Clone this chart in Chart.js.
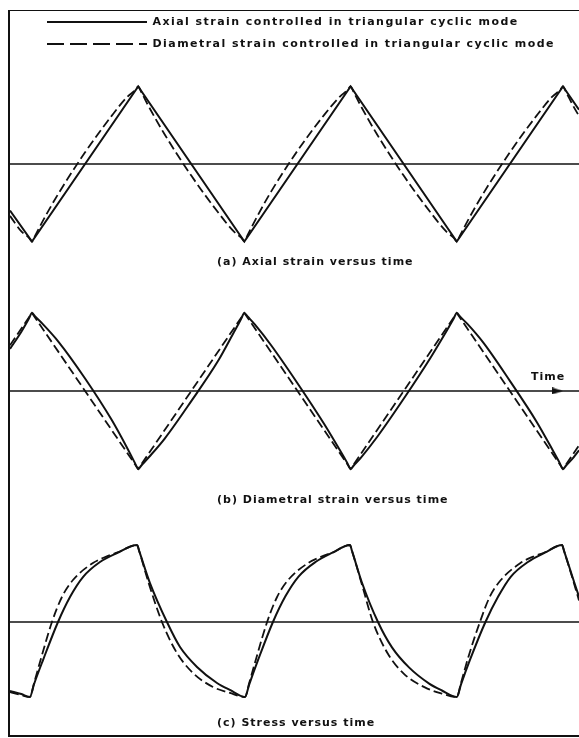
<!DOCTYPE html>
<html>
<head>
<meta charset="utf-8">
<title>Triangular cyclic loading: strain and stress versus time</title>
<script src="https://cdn.jsdelivr.net/npm/chart.js@4/dist/chart.umd.min.js"></script>
<style>
  html, body { margin: 0; padding: 0; background: #fff; width: 579px; height: 738px; overflow: hidden; }
  #frame {
    position: absolute; left: 8px; top: 10px; width: 600px; height: 727px;
    box-sizing: border-box;
    border-left: 2px solid #111; border-top: 1.5px solid #111; border-bottom: 2px solid #111;
  }
  canvas { position: absolute; }
</style>
</head>
<body>
<div id="frame"></div>
<canvas id="legendCanvas" width="579" height="100" style="left:0;top:0"></canvas>
<canvas id="panelA" width="569" height="225" style="left:10px;top:55px"></canvas>
<canvas id="panelB" width="569" height="225" style="left:10px;top:285px"></canvas>
<canvas id="panelC" width="569" height="222" style="left:10px;top:515px"></canvas>
<script>
// Time axis: one unit = half a loading cycle (axial strain trough at t = 0)
const T_MIN = -0.207;
const T_MAX = 5.151;
const TIME_ARROW_T = 4.948;

// Series labels
const seriesLabels = [
  'Axial strain controlled in triangular cyclic mode',
  'Diametral strain controlled in triangular cyclic mode'
];
const panelCaptions = [
  '(a) Axial strain versus time',
  '(b) Diametral strain versus time',
  '(c) Stress versus time'
];
const timeLabel = 'Time';

// (a) Axial strain, normalised to its amplitude
const axialStrainAxCtrlT = [-0.207, 0, 1, 2, 3, 4, 5, 5.151];
const axialStrainAxCtrl  = [-0.60, -1, 1, -1, 1, -1, 1, 0.70];
const axialStrainDiCtrlT = [-0.207, -0.1, -0.03, 0,
                            0.03, 0.1, 0.25, 0.5, 0.75, 0.9, 0.97, 1,
                            1.03, 1.1, 1.25, 1.5, 1.75, 1.9, 1.97, 2,
                            2.03, 2.1, 2.25, 2.5, 2.75, 2.9, 2.97, 3,
                            3.03, 3.1, 3.25, 3.5, 3.75, 3.9, 3.97, 4,
                            4.03, 4.1, 4.25, 4.5, 4.75, 4.9, 4.97, 5,
                            5.03, 5.1, 5.151];
const axialStrainDiCtrl  = [-0.67, -0.87, -0.95, -1,
                            -0.925, -0.74, -0.38, 0.15, 0.62, 0.87, 0.95, 1,
                            0.925, 0.74, 0.38, -0.15, -0.62, -0.87, -0.95, -1,
                            -0.92, -0.73, -0.36, 0.17, 0.63, 0.87, 0.95, 1,
                            0.925, 0.74, 0.38, -0.15, -0.62, -0.87, -0.95, -1,
                            -0.925, -0.74, -0.38, 0.15, 0.62, 0.87, 0.95, 1,
                            0.925, 0.74, 0.62];

// (b) Diametral strain, normalised to its amplitude
const diamStrainDiCtrlT = [-0.207, 0, 1, 2, 3, 4, 5, 5.151];
const diamStrainDiCtrl  = [0.586, 1, -1, 1, -1, 1, -1, -0.698];
const diamStrainAxCtrlT = [-0.207, -0.1, -0.03, 0,
                           0.03, 0.1, 0.25, 0.5, 0.75, 0.9, 0.97, 1,
                           1.03, 1.1, 1.25, 1.5, 1.75, 1.9, 1.97, 2,
                           2.03, 2.1, 2.25, 2.5, 2.75, 2.9, 2.97, 3,
                           3.03, 3.1, 3.25, 3.5, 3.75, 3.9, 3.97, 4,
                           4.03, 4.1, 4.25, 4.5, 4.75, 4.9, 4.97, 5,
                           5.03, 5.1, 5.151];
const diamStrainAxCtrl  = [0.54, 0.76, 0.925, 1,
                           0.955, 0.86, 0.63, 0.16, -0.37, -0.74, -0.925, -1,
                           -0.955, -0.85, -0.61, -0.13, 0.38, 0.75, 0.925, 1,
                           0.955, 0.85, 0.59, 0.10, -0.42, -0.76, -0.925, -1,
                           -0.955, -0.85, -0.59, -0.10, 0.42, 0.76, 0.925, 1,
                           0.955, 0.86, 0.62, 0.13, -0.39, -0.75, -0.925, -1,
                           -0.955, -0.85, -0.76];

// (c) Stress, normalised to the peak stress
const stressAxCtrlT = [-0.207, -0.1, -0.02, 0.02, 0.104, 0.245, 0.358, 0.48, 0.64, 0.80, 0.99,
                       1.01, 1.111, 1.271, 1.394, 1.554, 1.742, 1.864, 2.006,
                       2.046, 2.13, 2.269, 2.385, 2.51, 2.67, 2.83, 2.994,
                       3.014, 3.105, 3.258, 3.39, 3.55, 3.74, 3.86, 4.0,
                       4.04, 4.125, 4.27, 4.39, 4.51, 4.67, 4.83, 4.991,
                       5.011, 5.105, 5.151];
const stressAxCtrl  = [-0.896, -0.935, -0.974, -0.805, -0.494, 0, 0.325, 0.584, 0.779, 0.896, 1.0,
                       0.92, 0.506, 0, -0.325, -0.584, -0.792, -0.883, -0.974,
                       -0.81, -0.49, 0, 0.33, 0.59, 0.78, 0.90, 1.0,
                       0.92, 0.52, 0, -0.33, -0.59, -0.80, -0.89, -0.974,
                       -0.81, -0.49, 0, 0.33, 0.59, 0.78, 0.90, 1.0,
                       0.92, 0.52, 0.33];
const stressDiCtrlT = [-0.207, -0.1, -0.02, 0.02, 0.09, 0.188, 0.282, 0.386, 0.574, 0.70, 0.80, 0.99,
                       1.01, 1.10, 1.224, 1.365, 1.516, 1.704, 1.864, 2.006,
                       2.046, 2.116, 2.214, 2.308, 2.412, 2.60, 2.726, 2.826, 2.994,
                       3.014, 3.10, 3.211, 3.35, 3.50, 3.70, 3.86, 4.0,
                       4.04, 4.11, 4.218, 4.31, 4.415, 4.60, 4.72, 4.82, 4.991,
                       5.011, 5.10, 5.151];
const stressDiCtrl  = [-0.91, -0.95, -0.974, -0.79, -0.45, 0, 0.325, 0.545, 0.766, 0.85, 0.90, 1.0,
                       0.92, 0.50, 0, -0.403, -0.662, -0.844, -0.922, -0.974,
                       -0.79, -0.45, 0, 0.325, 0.545, 0.766, 0.85, 0.90, 1.0,
                       0.92, 0.52, 0, -0.41, -0.67, -0.85, -0.93, -0.974,
                       -0.79, -0.45, 0, 0.325, 0.545, 0.766, 0.85, 0.90, 1.0,
                       0.92, 0.52, 0.28];

const INK = '#111';
const LABEL_FONT = 'bold 11px "DejaVu Sans", sans-serif';
Chart.defaults.font.family = '"DejaVu Sans", sans-serif';
Chart.defaults.color = INK;

const pts = (t, v) => t.map((x, i) => ({ x, y: v[i] }));

// Canvas letter spacing for the wide bold lettering
const spacedText = (spacing) => ({
  id: 'spacedText',
  beforeLayout(chart) { chart.ctx.letterSpacing = spacing; },
  beforeDraw(chart) { chart.ctx.letterSpacing = spacing; }
});

// Free-standing labels (panel captions, axis name)
const textLabels = (items) => ({
  id: 'textLabels',
  afterDatasetsDraw(chart) {
    const ctx = chart.ctx;
    ctx.save();
    ctx.font = LABEL_FONT;
    ctx.letterSpacing = '1px';
    ctx.fillStyle = INK;
    ctx.textBaseline = 'middle';
    ctx.textAlign = 'left';
    items.forEach(it => ctx.fillText(it.text, it.x, it.y));
    ctx.restore();
  }
});

// Narrow arrowhead for the time axis
const arrowHead = document.createElement('canvas');
arrowHead.width = 11;
arrowHead.height = 7;
(() => {
  const c = arrowHead.getContext('2d');
  c.fillStyle = INK;
  c.beginPath();
  c.moveTo(0, 0);
  c.lineTo(11, 3.5);
  c.lineTo(0, 7);
  c.closePath();
  c.fill();
})();

const solidStyle = { borderColor: INK, borderWidth: 2, pointRadius: 0, fill: false, tension: 0 };
const dashedStyle = { borderColor: INK, borderWidth: 1.8, borderDash: [9, 4], pointRadius: 0, fill: false, tension: 0 };
const smooth = { cubicInterpolationMode: 'monotone' };
const zeroLine = () => ({ data: pts([T_MIN, T_MAX], [0, 0]), borderColor: INK, borderWidth: 1.5, pointRadius: 0, fill: false });

function makePanel(id, yMin, yMax, datasets, labels) {
  return new Chart(document.getElementById(id), {
    type: 'line',
    data: { datasets },
    options: {
      responsive: false,
      animation: false,
      events: [],
      layout: { padding: 0, autoPadding: false },
      scales: {
        x: { type: 'linear', min: T_MIN, max: T_MAX, display: false },
        y: { type: 'linear', min: yMin, max: yMax, display: false }
      },
      plugins: { legend: { display: false }, tooltip: { enabled: false } }
    },
    plugins: [textLabels(labels)]
  });
}

// Legend
new Chart(document.getElementById('legendCanvas'), {
  type: 'line',
  data: {
    datasets: [
      { label: seriesLabels[0], data: [], borderColor: INK, borderWidth: 1.8 },
      { label: seriesLabels[1], data: [], borderColor: INK, borderWidth: 1.8, borderDash: [17, 6] }
    ]
  },
  options: {
    responsive: false,
    animation: false,
    events: [],
    layout: { padding: { left: 36, top: 5.5 }, autoPadding: false },
    scales: { x: { display: false }, y: { display: false } },
    plugins: {
      tooltip: { enabled: false },
      legend: {
        display: true,
        position: 'top',
        align: 'start',
        maxHeight: 90,
        labels: {
          usePointStyle: true,
          pointStyle: 'line',
          pointStyleWidth: 100,
          padding: 11,
          color: INK,
          font: { size: 11, weight: 'bold' },
          generateLabels(chart) {
            const base = Chart.defaults.plugins.legend.labels.generateLabels(chart);
            return base.map(item => {
              const ds = chart.data.datasets[item.datasetIndex];
              return Object.assign({}, item, {
                lineDash: ds.borderDash || [],
                lineWidth: ds.borderWidth,
                strokeStyle: ds.borderColor
              });
            });
          }
        }
      }
    }
  },
  plugins: [spacedText('1.45px')]
});

// (a) Axial strain versus time
makePanel('panelA', -1.497, 1.406, [
  zeroLine(),
  Object.assign({ data: pts(axialStrainAxCtrlT, axialStrainAxCtrl) }, solidStyle),
  Object.assign({ data: pts(axialStrainDiCtrlT, axialStrainDiCtrl) }, dashedStyle, smooth)
], [{ text: panelCaptions[0], x: 207, y: 207 }]);

// (b) Diametral strain versus time, with the time arrow
makePanel('panelB', -1.526, 1.359, [
  zeroLine(),
  { data: pts([TIME_ARROW_T], [0]), showLine: false, pointStyle: arrowHead,
    pointRadius: 5, pointBorderWidth: 0 },
  Object.assign({ data: pts(diamStrainAxCtrlT, diamStrainAxCtrl) }, solidStyle, smooth),
  Object.assign({ data: pts(diamStrainDiCtrlT, diamStrainDiCtrl) }, dashedStyle)
], [{ text: panelCaptions[1], x: 207, y: 215 }, { text: timeLabel, x: 521, y: 92 }]);

// (c) Stress versus time
makePanel('panelC', -1.494, 1.390, [
  zeroLine(),
  Object.assign({ data: pts(stressAxCtrlT, stressAxCtrl) }, solidStyle, smooth),
  Object.assign({ data: pts(stressDiCtrlT, stressDiCtrl) }, dashedStyle, smooth)
], [{ text: panelCaptions[2], x: 207, y: 208 }]);
</script>
</body>
</html>
